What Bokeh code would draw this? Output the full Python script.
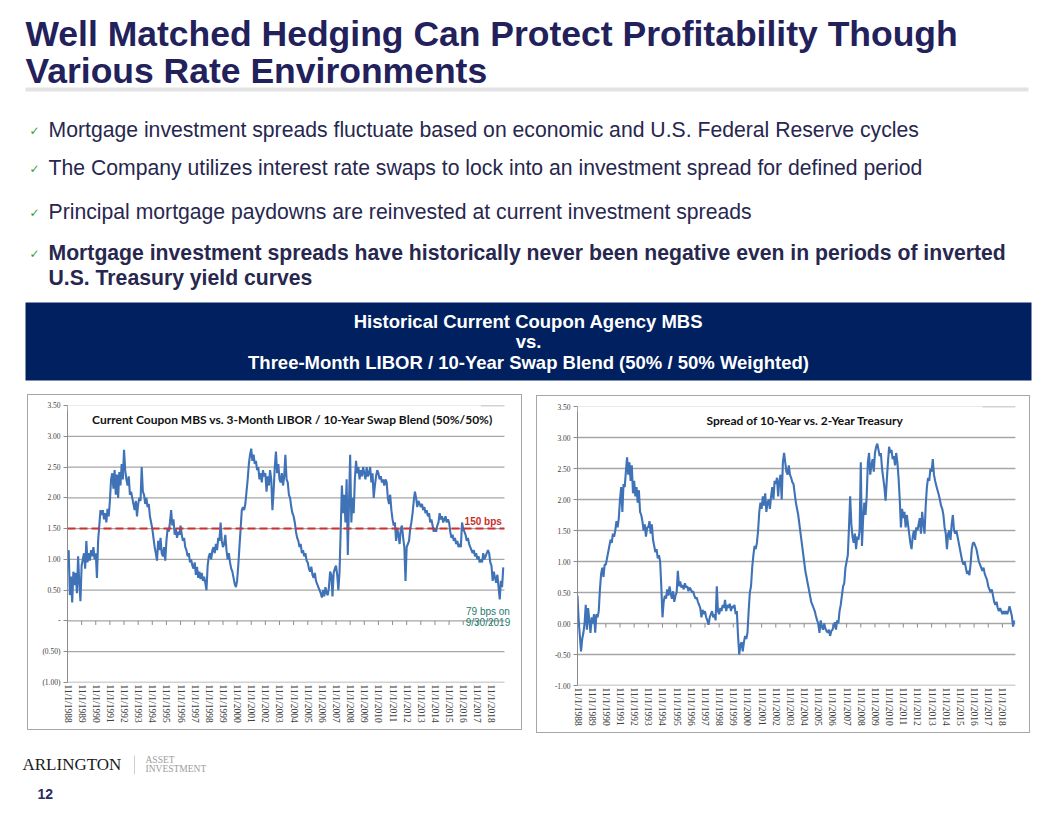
from bokeh.plotting import figure
from bokeh.models import (Range1d, FixedTicker, CustomJSTickFormatter, Label,
                          BoxAnnotation, Spacer)
from bokeh.layouts import column, row
from bokeh.embed import file_html
from bokeh.resources import INLINE
from bokeh.core.properties import value

# ---------------- data (monthly, Nov 1988 .. Sep 2019) ----------------
mbs_spread = [
    0.85, 1.15, 0.42, 0.72, 0.30, 0.80, 0.58, 0.78, 0.45, 1.05, 0.62, 0.32,
    0.90, 1.00, 1.10, 0.85, 1.30, 0.95, 1.10, 0.98, 1.15, 1.05, 1.20, 1.00,
    1.10, 0.70, 1.30, 1.55, 1.80, 1.72, 1.80, 1.65, 1.75, 1.60, 1.82, 1.70,
    1.95, 2.30, 2.40, 2.15, 2.45, 2.05, 2.38, 2.00, 2.42, 2.20, 2.55, 2.30,
    2.78, 2.45, 2.30, 2.20, 2.35, 2.05, 2.10, 2.00, 1.90, 1.80, 1.95, 1.70,
    1.90, 2.00, 1.95, 2.50, 2.10, 2.05, 1.90, 2.00, 1.85, 1.90, 1.70, 1.60,
    1.50, 1.35, 1.20, 1.10, 0.98, 1.30, 1.15, 1.35, 1.10, 1.05, 1.20, 0.98,
    1.30, 1.50, 1.45, 1.60, 1.80, 1.55, 1.65, 1.40, 1.50, 1.35, 1.45, 1.40,
    1.55, 1.40, 1.30, 1.35, 1.20, 1.15, 1.05, 1.10, 0.95, 1.00, 0.90, 0.85,
    0.95, 0.75, 0.88, 0.70, 0.80, 0.68, 0.78, 0.65, 0.72, 0.62, 0.50, 0.90,
    1.05, 1.10, 1.00, 1.15, 1.20, 1.10, 1.25, 1.15, 1.35, 1.30, 1.60, 1.30,
    1.20, 1.25, 1.40, 1.15, 1.00, 1.10, 0.95, 0.85, 0.80, 0.70, 0.60, 0.55,
    0.65, 0.90, 1.20, 1.50, 1.80, 1.85, 1.80, 1.90, 2.10, 2.30, 2.55, 2.70,
    2.80, 2.60, 2.70, 2.55, 2.60, 2.45, 2.50, 2.30, 2.40, 2.25, 2.45, 2.35,
    2.40, 2.10, 2.35, 2.20, 2.45, 2.30, 1.80, 2.10, 2.50, 2.75, 2.40, 2.55,
    2.30, 2.25, 2.40, 2.20, 2.35, 2.70, 2.30, 2.25, 2.05, 2.00, 1.85, 1.75,
    1.70, 1.60, 1.45, 1.35, 1.30, 1.20, 1.25, 1.10, 1.15, 1.05, 1.10, 0.98,
    0.95, 0.85, 0.80, 0.88, 0.75, 0.70, 0.78, 0.65, 0.60, 0.55, 0.50, 0.45,
    0.38, 0.50, 0.40, 0.55, 0.45, 0.42, 0.55, 0.80, 0.75, 0.40, 0.78, 0.85,
    0.90, 0.75, 0.50, 0.80, 1.50, 2.20, 1.75, 2.05, 1.60, 2.30, 1.07, 1.90,
    2.70, 1.60, 2.00, 1.75, 2.30, 2.60, 2.40, 2.50, 2.30, 2.45, 2.35, 2.50,
    2.40, 2.30, 2.50, 2.35, 2.40, 2.50, 2.25, 2.40, 2.00, 2.20, 2.35, 2.45,
    2.40, 2.30, 2.35, 2.25, 2.30, 2.20, 2.30, 2.25, 2.00, 1.90, 2.05, 1.80,
    1.65, 1.55, 1.60, 1.30, 1.50, 1.40, 1.25, 1.50, 1.55, 1.35, 1.20, 0.65,
    1.20, 1.25, 1.30, 1.50, 1.60, 1.75, 1.95, 2.10, 2.00, 1.85, 1.95, 1.90,
    1.85, 1.90, 1.80, 1.85, 1.75, 1.80, 1.70, 1.75, 1.60, 1.65, 1.55, 1.45,
    1.50, 1.45, 1.55, 1.60, 1.75, 1.65, 1.70, 1.60, 1.65, 1.70, 1.60, 1.65,
    1.60, 1.45, 1.35, 1.40, 1.30, 1.35, 1.25, 1.30, 1.20, 1.25, 1.20, 1.60,
    1.50, 1.45, 1.40, 1.30, 1.35, 1.25, 1.20, 1.15, 1.10, 1.15, 1.05, 1.10,
    1.00, 1.05, 0.95, 1.00, 0.95, 1.10, 1.00, 1.05, 1.10, 1.15, 1.10, 0.95,
    0.90, 0.65, 0.80, 0.70, 0.62, 0.75, 0.55, 0.35, 0.65, 0.55, 0.87,
]

treasury_spread = [
    0.45, 0.05, -0.20, -0.45, -0.25, -0.15, 0.00, 0.30, -0.10, 0.25, 0.05, -0.15,
    0.10, 0.00, 0.15, -0.15, 0.15, 0.10, 0.20, 0.55, 0.80, 0.90, 0.75, 0.95,
    0.95, 1.05, 1.15, 1.25, 1.35, 1.30, 1.45, 1.40, 1.50, 1.65, 1.55, 1.70,
    2.00, 2.20, 1.80, 2.25, 2.20, 2.45, 2.68, 2.40, 2.60, 2.30, 2.55, 2.10,
    2.30, 2.05, 2.20, 1.95, 2.15, 1.80, 1.75, 1.65, 1.50, 1.60, 1.40, 1.55,
    1.55, 1.65, 1.45, 1.60, 1.35, 1.25, 1.15, 1.20, 1.05, 1.10, 1.00, 0.60,
    0.10, 0.35, 0.45, 0.40, 0.55, 0.45, 0.60, 0.48, 0.40, 0.52, 0.35, 0.45,
    0.50, 0.85, 0.60, 0.68, 0.58, 0.62, 0.55, 0.65, 0.58, 0.60, 0.52, 0.58,
    0.55, 0.50, 0.52, 0.45, 0.40, 0.42, 0.35, 0.30, 0.25, 0.10, 0.22, 0.15,
    0.20, 0.10, 0.05, -0.02, 0.10, 0.15, 0.20, 0.10, 0.15, 0.05, 0.60, 0.20,
    0.15, 0.25, 0.20, 0.30, 0.25, 0.38, 0.20, 0.30, 0.25, 0.32, 0.20, 0.28,
    0.25, 0.30, 0.15, 0.20, -0.20, -0.50, -0.35, -0.30, -0.45, -0.30, -0.20, -0.25,
    -0.15, 0.20, 0.50, 0.60, 0.90, 1.10, 1.25, 1.20, 1.30, 1.50, 1.80, 1.95,
    1.85, 2.05, 1.90, 2.10, 1.80, 1.95, 2.00, 1.85, 2.05, 2.20, 2.00, 2.30,
    2.25, 2.35, 2.05, 2.30, 2.40, 2.00, 2.60, 2.75, 2.60, 2.45, 2.40, 2.55,
    2.40, 2.35, 2.28, 2.25, 2.10, 1.95, 1.85, 1.75, 1.60, 1.45, 1.30, 1.15,
    1.00, 0.85, 0.75, 0.65, 0.55, 0.45, 0.35, 0.30, 0.25, 0.20, 0.12, 0.05,
    0.00, -0.15, 0.05, -0.05, -0.10, 0.00, -0.08, -0.12, -0.15, -0.10, -0.20, -0.12,
    -0.10, -0.05, 0.02, -0.10, 0.05, 0.00, 0.20, 0.30, 0.45, 0.60, 0.65, 0.90,
    1.00, 1.10, 1.55, 2.05, 1.60, 1.40, 1.30, 1.45, 1.20, 1.40, 1.35, 1.50,
    2.60, 1.25, 1.70, 1.95, 1.75, 2.05, 2.60, 2.75, 2.40, 2.55, 2.65, 2.45,
    2.75, 2.85, 2.90, 2.80, 2.70, 2.75, 2.50, 2.35, 2.20, 1.98, 2.30, 2.60,
    2.85, 2.75, 2.80, 2.65, 2.70, 2.55, 2.75, 2.60, 2.35, 2.00, 1.55, 1.85,
    1.70, 1.80, 1.55, 1.75, 1.60, 1.45, 1.30, 1.20, 1.40, 1.50, 1.35, 1.55,
    1.50, 1.60, 1.70, 1.45, 1.80, 1.60, 1.45, 1.90, 2.20, 2.35, 2.30, 2.50,
    2.45, 2.65, 2.40, 2.30, 2.22, 2.15, 2.08, 2.00, 1.90, 1.85, 1.75, 1.55,
    1.45, 1.20, 1.45, 1.50, 1.35, 1.60, 1.75, 1.50, 1.45, 1.50, 1.40, 1.30,
    1.20, 1.10, 1.00, 0.95, 1.00, 0.90, 0.80, 0.85, 0.78, 0.95, 1.20, 1.30,
    1.30, 1.25, 1.20, 1.10, 1.00, 0.95, 0.90, 0.85, 0.90, 0.80, 0.75, 0.70,
    0.60, 0.55, 0.50, 0.55, 0.45, 0.35, 0.30, 0.35, 0.25, 0.20, 0.25, 0.20,
    0.15, 0.20, 0.15, 0.20, 0.15, 0.20, 0.28, 0.20, 0.12, -0.05, 0.05,
]

month_index = list(range(len(mbs_spread)))

year_ticks = [0, 12, 24, 36, 48, 60, 72, 84, 96, 108, 120, 132, 144, 156, 168,
              180, 192, 204, 216, 228, 240, 252, 264, 276, 288, 300, 312, 324,
              336, 348, 360]
year_labels = ["11/1/1988", "11/1/1989", "11/1/1990", "11/1/1991", "11/1/1992",
               "11/1/1993", "11/1/1994", "11/1/1995", "11/1/1996", "11/1/1997",
               "11/1/1998", "11/1/1999", "11/1/2000", "11/1/2001", "11/1/2002",
               "11/1/2003", "11/1/2004", "11/1/2005", "11/1/2006", "11/1/2007",
               "11/1/2008", "11/1/2009", "11/1/2010", "11/1/2011", "11/1/2012",
               "11/1/2013", "11/1/2014", "11/1/2015", "11/1/2016", "11/1/2017",
               "11/1/2018"]
y_ticks = [-1.0, -0.5, 0.0, 0.5, 1.0, 1.5, 2.0, 2.5, 3.0, 3.5]
threshold = 1.5

NAVY = "#22215b"
TEXT_NAVY = "#27274f"
LINE_BLUE = "#3f72b6"
GRID = "#a6a6a6"
SANS = value("Liberation Sans")
N_MONTHS = len(mbs_spread)   # plotted span of the date axis


def make_chart(series, title, title_x, formatter_code, width, height, margin,
               mb_left, mb_right, mb_top, mb_bottom, cover_right):
    p = figure(width=width, height=height, x_range=Range1d(0, 377),
               y_range=Range1d(-1.0, 3.5),
               output_backend="svg", toolbar_location=None,
               min_border_left=mb_left, min_border_right=mb_right,
               min_border_top=mb_top, min_border_bottom=mb_bottom,
               margin=margin,
               styles={"border": "1px solid #a6a6a6"})
    p.outline_line_color = None
    p.background_fill_color = None
    p.border_fill_color = None
    p.grid.visible = False

    # horizontal gridlines across the dated span
    g = p.segment(x0=[0] * len(y_ticks), y0=y_ticks, x1=[N_MONTHS] * len(y_ticks),
                  y1=y_ticks, line_color=GRID, line_width=1.3)
    g.level = "underlay"

    ya = p.yaxis[0]
    ya.ticker = FixedTicker(ticks=y_ticks)
    ya.formatter = CustomJSTickFormatter(code=formatter_code)
    ya.axis_line_color = "#8c8c8c"
    ya.major_tick_line_color = "#8c8c8c"
    ya.major_tick_out = 4
    ya.major_tick_in = 0
    ya.minor_tick_line_color = None
    ya.major_label_text_font = "Liberation Serif"
    ya.major_label_text_font_size = "7.5px"
    ya.major_label_text_color = "#404040"
    ya.major_label_standoff = 3

    xa = p.xaxis[0]
    xa.ticker = FixedTicker(ticks=year_ticks)
    xa.major_label_overrides = dict(zip(year_ticks, year_labels))
    xa.axis_line_color = None
    xa.major_tick_line_color = None
    xa.minor_tick_line_color = None
    xa.major_tick_out = 0
    xa.major_label_orientation = "vertical"
    xa.major_label_text_font = "Liberation Serif"
    xa.major_label_text_font_size = "9.5px"
    xa.major_label_text_color = "#404040"
    xa.major_label_standoff = 2

    # zero axis tick marks
    p.segment(x0=year_ticks, y0=[0] * len(year_ticks), x1=year_ticks,
              y1=[-0.065] * len(year_ticks), line_color="#8c8c8c", line_width=1)

    p.line(month_index[:len(series)], series, line_color=LINE_BLUE, line_width=2.1)

    # white chart-title box hiding the top gridline (as in the source chart)
    p.add_layout(BoxAnnotation(left=0, right=cover_right, bottom=3.42, top=3.6,
                               fill_color="white", fill_alpha=1, line_color=None))
    p.add_layout(Label(x=title_x, y=3.27, text=title, text_align="center",
                       text_baseline="middle", text_font="Lato",
                       text_font_style="bold", text_font_size="12px",
                       text_color="#111111"))
    return p


left_fmt = ("if (Math.abs(tick) < 1e-9) { return '-'; } "
            "if (tick < 0) { return '(' + (-tick).toFixed(2) + ')'; } "
            "return tick.toFixed(2);")
right_fmt = "return tick.toFixed(2);"

left = make_chart(mbs_spread,
                  "Current Coupon MBS vs. 3-Month LIBOR / 10-Year Swap Blend (50%/50%)",
                  191, left_fmt, 495, 336, (1, 0, 0, 0), 39, 12, 10, 48, 351)
left.segment(x0=[0], y0=[threshold], x1=[N_MONTHS], y1=[threshold],
             line_color="#d0312d", line_dash="8 4", line_width=2)
left.add_layout(Label(x=353, y=1.61, text="150 bps", text_align="center",
                      text_baseline="middle", text_font="Liberation Sans",
                      text_font_style="bold",
                      text_font_size="10px", text_color="#c8302c"))
left.add_layout(Label(x=357, y=0.16, text="79 bps on", text_align="center",
                      text_baseline="middle", text_font="Liberation Sans",
                      text_font_size="10px", text_color="#1e7b6e"))
left.add_layout(Label(x=357, y=-0.02, text="9/30/2019", text_align="center",
                      text_baseline="middle", text_font="Liberation Sans",
                      text_font_size="10px", text_color="#1e7b6e"))

right = make_chart(treasury_spread, "Spread of 10-Year vs. 2-Year Treasury",
                   193, right_fmt, 494, 338, (2, 0, 0, 0), 40, 9, 10, 49, 343)

# ---------------- header (page pixel coordinates) ----------------
hdr = figure(width=1040, height=393, x_range=Range1d(0, 1040), y_range=Range1d(393, 0),
             output_backend="svg", toolbar_location=None, x_axis_type=None,
             y_axis_type=None, min_border=0)
hdr.grid.visible = False
hdr.outline_line_color = None

hdr.text(x=[25, 25], y=[33, 70],
         text=["Well Matched Hedging Can Protect Profitability Though",
               "Various Rate Environments"],
         text_font=SANS, text_font_style="bold", text_font_size="35.5px",
         text_color=NAVY, text_baseline="middle", text_align="left")
hdr.quad(left=[25], right=[1028], top=[87], bottom=[91], fill_color="#e3e3e3",
         line_color=None)

hdr.text(x=[29, 29, 29, 29], y=[130, 168, 212, 253], text=["✓"] * 4,
         text_font=value("DejaVu Sans"), text_font_size="12px", text_color="#3d9a3d",
         text_baseline="middle", text_align="left")
hdr.text(x=[48, 48, 48], y=[129, 167, 211],
         text=["Mortgage investment spreads fluctuate based on economic and U.S. Federal Reserve cycles",
               "The Company utilizes interest rate swaps to lock into an investment spread for defined period",
               "Principal mortgage paydowns are reinvested at current investment spreads"],
         text_font=SANS, text_font_size="21.2px", text_color=TEXT_NAVY,
         text_baseline="middle", text_align="left")
hdr.text(x=[48, 48], y=[252, 277],
         text=["Mortgage investment spreads have historically never been negative even in periods of inverted",
               "U.S. Treasury yield curves"],
         text_font=SANS, text_font_style="bold", text_font_size="21.2px",
         text_color=TEXT_NAVY, text_baseline="middle", text_align="left")

hdr.quad(left=[25], right=[1031], top=[302], bottom=[380], fill_color="#002060",
         line_color=None)
hdr.text(x=[528, 528, 528], y=[321, 341, 362],
         text=["Historical Current Coupon Agency MBS", "vs.",
               "Three-Month LIBOR / 10-Year Swap Blend (50% / 50% Weighted)"],
         text_font=SANS, text_font_style="bold", text_font_size="18.5px",
         text_color="white", text_baseline="middle", text_align="center")

# ---------------- footer ----------------
ftr = figure(width=1040, height=75, x_range=Range1d(0, 1040), y_range=Range1d(808, 733),
             output_backend="svg", toolbar_location=None, x_axis_type=None,
             y_axis_type=None, min_border=0)
ftr.grid.visible = False
ftr.outline_line_color = None
ftr.text(x=[22], y=[764], text=["ARLINGTON"], text_font=value("Liberation Serif"),
         text_font_size="17px", text_color="#1a1a1a", text_baseline="middle",
         text_align="left")
ftr.segment(x0=[134], y0=[755], x1=[134], y1=[774], line_color="#cfcfcf", line_width=1)
ftr.text(x=[145, 145], y=[759, 768], text=["ASSET", "INVESTMENT"],
         text_font=value("Liberation Serif"), text_font_size="9.5px",
         text_color="#9d9d9d", text_baseline="middle", text_align="left")
ftr.text(x=[37], y=[793], text=["12"], text_font=SANS, text_font_style="bold",
         text_font_size="14px", text_color="#2b2a5e", text_baseline="middle",
         text_align="left")

layout = column(
    hdr,
    row(Spacer(width=27, height=340), left, Spacer(width=14, height=340), right,
        Spacer(width=10, height=340)),
    ftr,
)

open("out.html", "w").write(file_html(layout, INLINE))
